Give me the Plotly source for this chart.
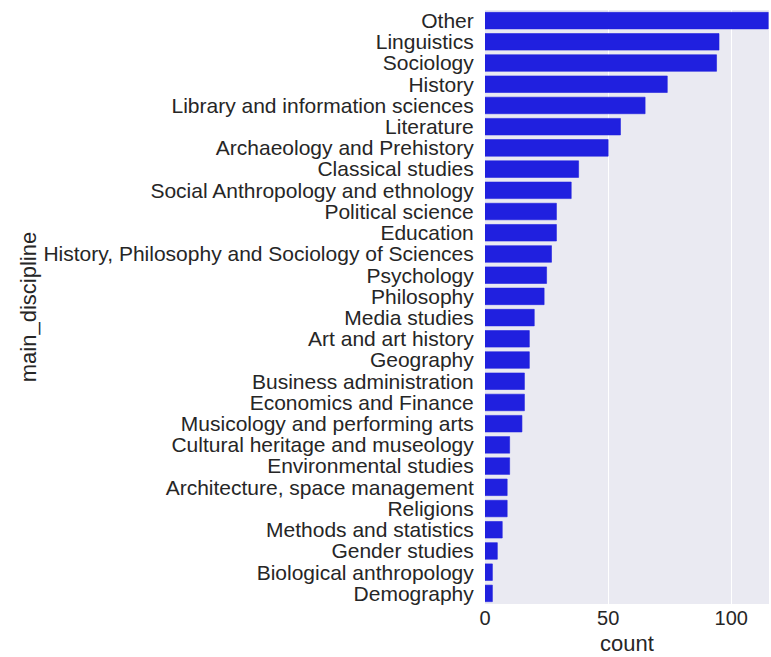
import plotly.graph_objects as go

disciplines = [
    'Other', 'Linguistics', 'Sociology', 'History', 'Library and information sciences',
    'Literature', 'Archaeology and Prehistory', 'Classical studies',
    'Social Anthropology and ethnology', 'Political science', 'Education',
    'History, Philosophy and Sociology of Sciences', 'Psychology', 'Philosophy',
    'Media studies', 'Art and art history', 'Geography', 'Business administration',
    'Economics and Finance', 'Musicology and performing arts',
    'Cultural heritage and museology', 'Environmental studies',
    'Architecture, space management', 'Religions', 'Methods and statistics',
    'Gender studies', 'Biological anthropology', 'Demography',
]
counts = [115, 95, 94, 74, 65, 55, 50, 38, 35, 29, 29, 27, 25, 24, 20, 18, 18, 16, 16, 15,
          10, 10, 9, 9, 7, 5, 3, 3]
x_ticks = [0, 50, 100]

FONT = 'Liberation Sans, Arial, sans-serif'
TEXT = '#262626'

fig = go.Figure()
fig.add_trace(go.Bar(
    x=counts, y=disciplines, orientation='h', width=0.78,
    marker={'color': '#2020df', 'line': {'color': '#2020df', 'width': 0.6}},
))

fig.layout = {
    'width': 771,
    'height': 657,
    'margin': {'l': 485, 'r': 2, 't': 10, 'b': 53},
    'paper_bgcolor': 'white',
    'plot_bgcolor': '#eaeaf2',
    'font': {'family': FONT, 'size': 20, 'color': TEXT},
    'showlegend': False,
    'xaxis': {
        'range': [0, 115.3],
        'tickmode': 'array', 'tickvals': x_ticks,
        'showgrid': True, 'gridcolor': 'white', 'gridwidth': 1.2,
        'zeroline': False,
        'ticks': '',
        'tickfont': {'size': 20},
        'automargin': False,
    },
    'yaxis': {
        'title': {'text': 'main_discipline', 'font': {'size': 22}, 'standoff': 0},
        'tickmode': 'array', 'tickvals': disciplines,
        'categoryorder': 'array', 'categoryarray': disciplines,
        'autorange': 'reversed',
        'showgrid': False, 'zeroline': False,
        'ticks': 'outside', 'ticklen': 6, 'tickcolor': 'rgba(0,0,0,0)',
        'tickfont': {'size': 21},
        'automargin': False,
    },
    # x axis title as an annotation so it can sit a little lower
    'annotations': [{
        'text': 'count', 'showarrow': False, 'font': {'size': 22},
        'xref': 'paper', 'yref': 'paper', 'x': 0.5, 'y': -0.066,
        'xanchor': 'center', 'yanchor': 'middle', 'borderpad': 0,
    }],
}

# the page's default body margin would shift the figure 8px
fig.write_html("out.html", config={'displayModeBar': False},
               post_script="document.body.style.margin='0';")
